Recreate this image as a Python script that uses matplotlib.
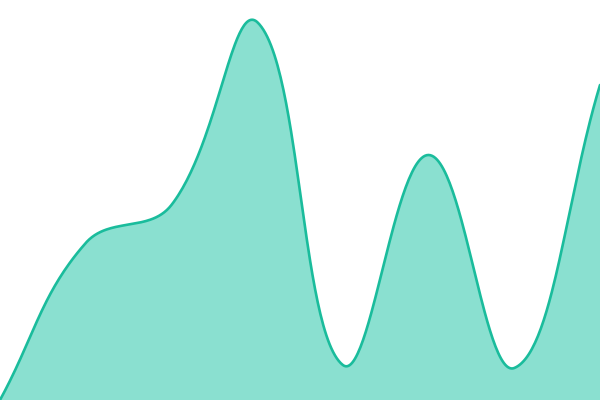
import numpy as np
import matplotlib.pyplot as plt

# data (8 evenly spaced points, value axis 0..400)
idx = [0, 1, 2, 3, 4, 5, 6, 7]
values = [0, 157, 195, 378, 35, 245, 32, 315]
tension = 0.4


def spline_pixels(pts, t, w, h, n=60):
    # bezier control points weighted by segment length (chart.js style)
    cps = []
    m = len(pts)
    for i in range(m):
        p0 = pts[max(i - 1, 0)]
        p1 = pts[i]
        p2 = pts[min(i + 1, m - 1)]
        d01 = np.hypot(*(p1 - p0))
        d12 = np.hypot(*(p2 - p1))
        s = d01 + d12
        fa = t * d01 / s if s else 0
        fb = t * d12 / s if s else 0
        prev = p1 - fa * (p2 - p0)
        nxt = p1 + fb * (p2 - p0)
        prev = np.clip(prev, [0, 0], [w, h])
        nxt = np.clip(nxt, [0, 0], [w, h])
        cps.append((prev, nxt))
    tt = np.linspace(0, 1, n)[:, None]
    segs = []
    for i in range(m - 1):
        a, b = pts[i], pts[i + 1]
        c1, c2 = cps[i][1], cps[i + 1][0]
        seg = (1 - tt) ** 3 * a + 3 * (1 - tt) ** 2 * tt * c1 + 3 * (1 - tt) * tt ** 2 * c2 + tt ** 3 * b
        segs.append(seg)
    return np.vstack(segs)


fig = plt.figure(figsize=(6, 4), dpi=100)
ax = fig.add_axes([0, 0, 1, 1])
ax.set_xlim(0, 7)
ax.set_ylim(0, 400)
ax.axis('off')

pix = ax.transData.transform(np.column_stack([idx, values]))
W, H = fig.canvas.get_width_height()
curve = spline_pixels(pix, tension, W, H)
sx, sy = ax.transData.inverted().transform(curve).T

ax.fill_between(sx, sy, 0, color='#8ae0d0', linewidth=0)
ax.plot(sx, sy, color='#1abc9c', linewidth=1.9, solid_capstyle='round')
fig.savefig('out.png', dpi=100)
